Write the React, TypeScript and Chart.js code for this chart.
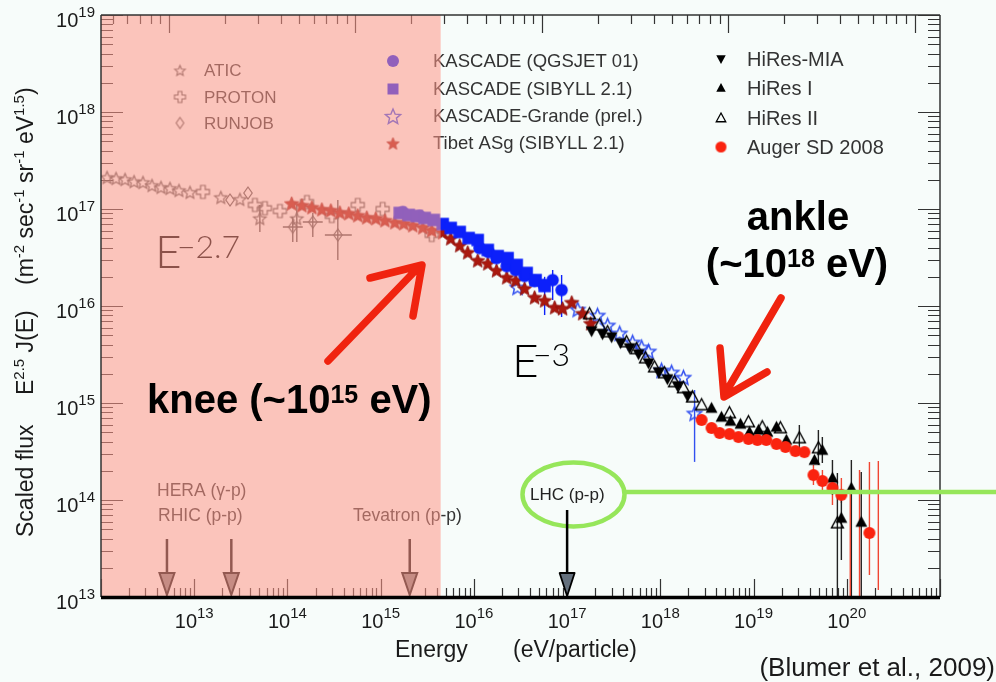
import React, { useEffect, useRef } from 'react';
import { Chart, registerables } from 'chart.js';

Chart.register(...registerables);

// ---------------- DATA ----------------
const xTickExponents = [13, 14, 15, 16, 17, 18, 19, 20];
const yTickExponents = [13, 14, 15, 16, 17, 18, 19];
const minorMultipliers = [2, 3, 4, 5, 6, 7, 8, 9];
const energyMin = 1e12;
const energyMax = 1e21;
const fluxMin = 1e13;
const fluxMax = 1e19;
const protonMassEv = 0.938e9;
const shadedMaxEnergy = 4.4e15;

const aticEnergy = [1.16e12, 1.45e12, 1.81e12, 2.26e12, 2.82e12, 3.52e12, 4.4e12, 5.49e12, 6.86e12, 9.0e12, 1.93e13, 3.09e13, 5.06e13, 1.26e14];
const aticFlux = [2.14e17, 2.09e17, 2.04e17, 1.94e17, 1.9e17, 1.77e17, 1.69e17, 1.65e17, 1.57e17, 1.5e17, 1.33e17, 1.27e17, 8.07e16, 8.07e16];
const aticLow = [null, null, null, null, null, null, null, null, null, null, null, null, 5.8e16, 4.57e16];
const aticHigh = [null, null, null, null, null, null, null, null, null, null, null, null, 1.1e17, 1.1e17];

const protonEnergy = [1.24e13, 4.48e13, 5.73e13, 8.3e13, 1.62e14, 2.99e14, 5.68e14, 1.05e15, 3.53e15];
const protonFlux = [1.5e17, 1.1e17, 1.02e17, 9.53e16, 1.18e17, 8.47e16, 1.1e17, 1.0e17, 5.4e16];

const runjobEnergy = [2.42e13, 3.77e13, 1.14e14, 1.87e14, 3.47e14];
const runjobFlux = [1.24e17, 1.46e17, 6.52e16, 7.34e16, 5.4e16];
const runjobLow = [null, null, 4.57e16, 5.14e16, 2.98e16];
const runjobHigh = [null, null, 8.27e16, 9.1e16, 1.24e17];
const runjobEnergyLow = [null, null, 8.93e13, 1.46e14, 2.52e14];
const runjobEnergyHigh = [null, null, 1.46e14, 2.39e14, 4.9e14];

const tibetEnergy = [1.11e14, 1.43e14, 1.83e14, 2.34e14, 2.92e14, 3.65e14, 4.55e14, 5.68e14, 7.1e14, 8.86e14, 1.11e15, 1.42e15, 1.77e15, 2.21e15, 2.83e15, 3.53e15, 4.63e15, 5.64e15, 7.05e15, 8.59e15, 1.1e16, 1.41e16, 1.75e16, 2.25e16, 2.81e16, 3.5e16, 4.48e16, 5.74e16, 7.35e16, 8.95e16, 1.12e17, 1.47e17, 1.79e17];
const tibetFlux = [1.15e17, 1.1e17, 1.05e17, 1.0e17, 9.77e16, 9.31e16, 9.1e16, 8.68e16, 8.27e16, 8.08e16, 7.71e16, 7.35e16, 7.18e16, 6.85e16, 6.52e16, 6.08e16, 5.8e16, 5.02e16, 4.26e16, 3.6e16, 2.98e16, 2.77e16, 2.35e16, 1.99e16, 1.85e16, 1.53e16, 1.24e16, 1.15e16, 9.77e15, 9.53e15, 1.1e16, 8.47e15, 6.68e15];

const kascadeSibyllEnergy = [1.6e15, 2.0e15, 2.44e15, 2.97e15, 3.71e15, 4.63e15, 5.64e15, 7.05e15, 8.79e15, 1.1e16, 1.41e16, 1.8e16, 2.3e16, 2.88e16, 3.68e16, 4.59e16, 5.74e16];
const kascadeSibyllFlux = [9.1e16, 8.68e16, 8.47e16, 8.08e16, 7.71e16, 7.0e16, 6.37e16, 5.8e16, 5.02e16, 4.79e16, 3.78e16, 3.27e16, 3.12e16, 2.65e16, 2.19e16, 1.85e16, 1.61e16];
const kascadeSibyllLow = [null, null, null, null, null, null, null, null, null, null, null, null, null, null, null, null, 8.07e15];
const kascadeSibyllHigh = [null, null, null, null, null, null, null, null, null, null, null, null, null, null, null, null, 2.0e16];

const kascadeQgsEnergy = [1.73e15, 2.62e15, 1.15e16, 1.44e16, 1.75e16, 2.25e16, 2.81e16, 3.5e16, 4.48e16, 5.6e16, 7.0e16, 8.73e16];
const kascadeQgsFlux = [9.31e16, 8.47e16, 3.96e16, 3.6e16, 3.12e16, 2.58e16, 2.35e16, 2.04e16, 1.81e16, 1.65e16, 1.85e16, 1.46e16];
const kascadeQgsLow = [null, null, null, null, null, null, null, null, null, null, 1.15e16, 7.71e15];
const kascadeQgsHigh = [null, null, null, null, null, null, null, null, null, null, 2.35e16, 2.09e16];

const grandeEnergy = [2.94e16, 1.3e17, 2.12e17, 2.72e17, 3.66e17, 5.04e17, 6.3e17, 7.47e17, 1.03e18, 1.32e18, 1.77e18, 2.33e18];
const grandeFlux = [1.57e16, 9.31e15, 8.07e15, 6.37e15, 5.27e15, 4.26e15, 3.78e15, 3.44e15, 2.19e15, 2.09e15, 1.85e15, 7.89e14];
const grandeLow = [null, null, null, null, null, null, null, null, null, null, null, 2.47e14];
const grandeHigh = [null, null, null, null, null, null, null, null, null, null, null, 1.36e15];

const hiresMiaEnergy = [1.83e17, 2.4e17, 3.0e17, 3.74e17, 4.68e17, 5.84e17, 7.47e17, 9.57e17, 1.19e18, 1.53e18, 1.96e18];
const hiresMiaFlux = [5.52e15, 5.14e15, 4.79e15, 4.16e15, 3.69e15, 3.2e15, 2.58e15, 2.09e15, 1.77e15, 1.5e15, 1.18e15];

const hires1Energy = [3.54e18, 4.53e18, 5.66e18, 7.24e18, 9.04e18, 1.13e19, 1.41e19, 1.76e19, 2.25e19, 4.5e19, 5.47e19, 7.02e19, 8.75e19, 1.12e20, 1.43e20];
const hires1Flux = [8.87e14, 7.18e14, 6.52e14, 6.08e14, 5.02e14, 5.27e14, 5.02e14, 5.66e14, 4.16e14, 2.58e14, 3.27e14, 1.69e14, 6.52e13, 1.33e14, 5.93e13];
const hires1Low = [null, null, null, null, null, null, null, null, null, null, 2.4e14, 1.13e14, 2.4e13, 1.0e13, 1.0e13];
const hires1High = [null, null, null, null, null, null, null, null, null, null, 4.46e14, 2.58e14, 1.2e14, 2.58e14, 1.94e14];

const hires2Energy = [1.74e17, 2.23e17, 2.72e17, 4.34e17, 5.56e17, 6.94e17, 8.67e17, 1.11e18, 1.42e18, 1.77e18, 2.21e18, 2.77e18, 5.52e18, 8.82e18, 1.24e19, 1.94e19, 3.1e19, 4.96e19, 7.93e19];
const hires2Flux = [8.28e15, 6.37e15, 5.4e15, 4.26e15, 3.61e15, 2.91e15, 2.35e15, 2.04e15, 1.65e15, 1.43e15, 1.15e15, 9.54e14, 7.89e14, 6.37e14, 5.66e14, 5.53e14, 4.36e14, 3.44e14, 5.79e13];
const hires2Low = [null, null, null, null, null, null, null, null, null, null, null, null, null, null, null, null, 3.27e14, 2.3e14, 1.0e13];
const hires2High = [null, null, null, null, null, null, null, null, null, null, null, null, null, null, null, null, 5.93e14, 5.27e14, 1.9e14];

const augerEnergy = [2.77e18, 3.54e18, 4.32e18, 5.52e18, 6.89e18, 8.82e18, 1.1e19, 1.37e19, 1.76e19, 2.2e19, 2.81e19, 3.51e19, 4.39e19, 5.48e19, 7.02e19, 8.75e19, 1.75e20];
const augerFlux = [6.68e14, 5.53e14, 4.91e14, 4.79e14, 4.46e14, 4.26e14, 4.16e14, 4.16e14, 3.78e14, 3.52e14, 3.2e14, 3.12e14, 1.81e14, 1.57e14, 1.33e14, 1.13e14, 4.57e13];
const augerLow = [null, null, null, null, null, null, null, null, null, null, null, null, 1.43e14, 1.21e14, 8.9e13, 9.3e13, 1.69e13];
const augerHigh = [null, null, null, null, null, null, null, null, null, null, null, null, 2.3e14, 2.04e14, 1.69e14, 1.69e14, 2.47e14];
const augerLimitEnergy = [1.09e20, 1.37e20, 2.18e20];
const augerLimitLow = [1.0e13, 1.0e13, 1.18e13];
const augerLimitHigh = [1.27e14, 2.04e14, 2.52e14];

const colliderLabels = ['HERA (γ-p)', 'RHIC (p-p)', 'Tevatron (p-p)', 'LHC (p-p)'];
const colliderEnergy = [5.1e12, 2.5e13, 2.05e15, 1.0e17];

const legendLeft = ['ATIC', 'PROTON', 'RUNJOB'];
const legendMiddle = ['KASCADE (QGSJET 01)', 'KASCADE (SIBYLL 2.1)', 'KASCADE-Grande (prel.)', 'Tibet ASg (SIBYLL 2.1)'];
const legendRight = ['HiRes-MIA', 'HiRes I', 'HiRes II', 'Auger SD 2008'];

// ---------------- STYLE ----------------
const BG = 'rgb(247,252,250)';
const SANS = '"Liberation Sans", Arimo, Arial, Helvetica, sans-serif';
const LIGHT = 'Lato, "Open Sans", "DejaVu Sans", sans-serif';
const GREY = 'rgb(80,80,80)';
const BLUE = 'rgb(12,32,250)';
const GRANDE = 'rgb(50,80,240)';
const TIBET = 'rgb(170,25,15)';
const AUGER = 'rgb(250,35,15)';
const ARROW_RED = 'rgb(240,35,15)';
const GREEN = 'rgb(150,230,90)';

function makeMarker(shape: string, size: number, stroke: string | null, fill: string | null, lw = 1.2): HTMLCanvasElement {
  const pad = 2;
  const n = Math.ceil(size + pad * 2);
  const c = document.createElement('canvas');
  c.width = n;
  c.height = n;
  const ctx = c.getContext('2d')!;
  const cx = n / 2;
  const cy = n / 2;
  const r = size / 2;
  ctx.beginPath();
  if (shape === 'star') {
    for (let i = 0; i < 10; i++) {
      const a = -Math.PI / 2 + (i * Math.PI) / 5;
      const rr = i % 2 === 0 ? r : r * 0.45;
      ctx.lineTo(cx + rr * Math.cos(a), cy + 1 + rr * Math.sin(a));
    }
    ctx.closePath();
  } else if (shape === 'circle') {
    ctx.arc(cx, cy, r, 0, Math.PI * 2);
  } else if (shape === 'square') {
    ctx.rect(cx - r, cy - r, 2 * r, 2 * r);
  } else if (shape === 'diamond') {
    ctx.moveTo(cx, cy - r);
    ctx.lineTo(cx + r * 0.7, cy);
    ctx.lineTo(cx, cy + r);
    ctx.lineTo(cx - r * 0.7, cy);
    ctx.closePath();
  } else if (shape === 'cross') {
    const a = r * 0.36;
    const p = [[-a, -r], [a, -r], [a, -a], [r, -a], [r, a], [a, a], [a, r], [-a, r], [-a, a], [-r, a], [-r, -a], [-a, -a]];
    p.forEach(([x, y]) => ctx.lineTo(cx + x, cy + y));
    ctx.closePath();
  } else if (shape === 'triUp') {
    ctx.moveTo(cx, cy - r);
    ctx.lineTo(cx + r * 0.95, cy + r * 0.75);
    ctx.lineTo(cx - r * 0.95, cy + r * 0.75);
    ctx.closePath();
  } else if (shape === 'triDown') {
    ctx.moveTo(cx, cy + r);
    ctx.lineTo(cx + r * 0.95, cy - r * 0.75);
    ctx.lineTo(cx - r * 0.95, cy - r * 0.75);
    ctx.closePath();
  }
  if (fill) {
    ctx.fillStyle = fill;
    ctx.fill();
  }
  if (stroke) {
    ctx.lineWidth = lw;
    ctx.strokeStyle = stroke;
    ctx.stroke();
  }
  return c;
}

function points(E: number[], F: number[], lo?: (number | null)[], hi?: (number | null)[], elo?: (number | null)[], ehi?: (number | null)[]) {
  return E.map((x, i) => ({
    x,
    y: F[i],
    lo: lo ? lo[i] : null,
    hi: hi ? hi[i] : null,
    xlo: elo ? elo[i] : null,
    xhi: ehi ? ehi[i] : null,
  }));
}

type Part = [string, boolean];

function drawRich(ctx: CanvasRenderingContext2D, parts: Part[], x: number, y: number, size: number, supSize: number, rise: number, weight = '', family = SANS, align: 'left' | 'center' | 'right' = 'left') {
  let w = 0;
  for (const [t, sup] of parts) {
    ctx.font = `${weight} ${sup ? supSize : size}px ${family}`;
    w += ctx.measureText(t).width;
  }
  let cx = align === 'left' ? x : align === 'center' ? x - w / 2 : x - w;
  ctx.textAlign = 'left';
  for (const [t, sup] of parts) {
    ctx.font = `${weight} ${sup ? supSize : size}px ${family}`;
    ctx.fillText(t, cx, sup ? y - rise : y);
    cx += ctx.measureText(t).width;
  }
  return w;
}

function sqrtS(E: number) {
  return Math.sqrt(2 * protonMassEv * E);
}

export default function App() {
  const ref = useRef<HTMLCanvasElement>(null);

  useEffect(() => {
    const canvas = ref.current!;
    const markers: Record<string, HTMLCanvasElement> = {
      atic: makeMarker('star', 13, GREY, null, 1.2),
      proton: makeMarker('cross', 13, GREY, null, 1.2),
      runjob: makeMarker('diamond', 12, GREY, null, 1.2),
      kq: makeMarker('circle', 12.5, null, BLUE),
      ks: makeMarker('square', 12.5, null, BLUE),
      grande: makeMarker('star', 15, GRANDE, null, 1.5),
      tibet: makeMarker('star', 15, 'rgb(140,15,10)', TIBET, 0.8),
      mia: makeMarker('triDown', 12.5, null, '#000'),
      h1: makeMarker('triUp', 12.5, null, '#000'),
      h2: makeMarker('triUp', 12.5, '#000', null, 1.4),
      auger: makeMarker('circle', 12, null, AUGER),
    };
    const legendMarkers: Record<string, HTMLCanvasElement> = {
      ATIC: makeMarker('star', 11, GREY, null, 1.1),
      PROTON: makeMarker('cross', 11, GREY, null, 1.1),
      RUNJOB: makeMarker('diamond', 11, GREY, null, 1.1),
      'KASCADE (QGSJET 01)': makeMarker('circle', 12, null, BLUE),
      'KASCADE (SIBYLL 2.1)': makeMarker('square', 11, null, BLUE),
      'KASCADE-Grande (prel.)': makeMarker('star', 16, GRANDE, null, 1.4),
      'Tibet ASg (SIBYLL 2.1)': makeMarker('star', 13, 'rgb(140,15,10)', TIBET, 0.8),
      'HiRes-MIA': makeMarker('triDown', 10, null, '#000'),
      'HiRes I': makeMarker('triUp', 10, null, '#000'),
      'HiRes II': makeMarker('triUp', 10, '#000', null, 1.3),
      'Auger SD 2008': makeMarker('circle', 11, null, AUGER),
    };

    const mk = (label: string, data: any[], style: HTMLCanvasElement, errColor: string) => ({
      label,
      data,
      pointStyle: style,
      pointRadius: 5,
      pointHoverRadius: 5,
      showLine: false,
      errColor,
    });

    const datasets: any[] = [
      mk('KASCADE (SIBYLL 2.1)', points(kascadeSibyllEnergy, kascadeSibyllFlux, kascadeSibyllLow, kascadeSibyllHigh), markers.ks, BLUE),
      mk('KASCADE (QGSJET 01)', points(kascadeQgsEnergy, kascadeQgsFlux, kascadeQgsLow, kascadeQgsHigh), markers.kq, BLUE),
      mk('Auger SD 2008', points(augerEnergy, augerFlux, augerLow, augerHigh), markers.auger, 'rgb(240,70,50)'),
      mk('HiRes I', points(hires1Energy, hires1Flux, hires1Low, hires1High), markers.h1, '#222'),
      mk('HiRes-MIA', points(hiresMiaEnergy, hiresMiaFlux), markers.mia, '#222'),
      mk('HiRes II', points(hires2Energy, hires2Flux, hires2Low, hires2High), markers.h2, '#222'),
      mk('Tibet ASg (SIBYLL 2.1)', points(tibetEnergy, tibetFlux), markers.tibet, TIBET),
      mk('KASCADE-Grande (prel.)', points(grandeEnergy, grandeFlux, grandeLow, grandeHigh), markers.grande, GRANDE),
      mk('RUNJOB', points(runjobEnergy, runjobFlux, runjobLow, runjobHigh, runjobEnergyLow, runjobEnergyHigh), markers.runjob, GREY),
      mk('PROTON', points(protonEnergy, protonFlux), markers.proton, GREY),
      mk('ATIC', points(aticEnergy, aticFlux, aticLow, aticHigh), markers.atic, GREY),
    ];

    const line = (ctx: CanvasRenderingContext2D, x1: number, y1: number, x2: number, y2: number) => {
      ctx.moveTo(x1, y1);
      ctx.lineTo(x2, y2);
    };

    const plugin = {
      id: 'cosmicRayDecor',
      beforeDraw(chart: any) {
        const ctx = chart.ctx;
        ctx.save();
        ctx.fillStyle = BG;
        ctx.fillRect(0, 0, chart.width, chart.height);
        ctx.restore();
      },
      beforeDatasetsDraw(chart: any) {
        const { ctx, chartArea: a, scales } = chart;
        const xs = scales.x;
        const ys = scales.y;
        const xt = scales.x2;
        ctx.save();
        // ticks
        ctx.strokeStyle = '#333';
        ctx.lineWidth = 1.2;
        ctx.beginPath();
        for (let e = 12; e <= 19; e++) {
          for (const k of [1, ...minorMultipliers]) {
            const v = k * Math.pow(10, e);
            if (v < fluxMin || v > fluxMax) continue;
            const py = Math.round(ys.getPixelForValue(v)) + 0.5;
            const L = k === 1 ? 22 : 12;
            line(ctx, a.left, py, a.left + L, py);
            line(ctx, a.right, py, a.right - L, py);
          }
        }
        for (let e = 11; e <= 21; e++) {
          for (const k of [1, ...minorMultipliers]) {
            const v = k * Math.pow(10, e);
            if (v < energyMin || v > energyMax) continue;
            const px = Math.round(xs.getPixelForValue(v)) + 0.5;
            const L = k === 1 ? 18 : 9;
            line(ctx, px, a.bottom, px, a.bottom - L);
          }
        }
        for (let e = 9; e <= 16; e++) {
          for (const k of [1, ...minorMultipliers]) {
            const v = k * Math.pow(10, e);
            if (v < xt.min || v > xt.max) continue;
            const px = Math.round(xt.getPixelForValue(v)) + 0.5;
            const L = k === 1 ? 18 : 9;
            line(ctx, px, a.top, px, a.top + L);
          }
        }
        ctx.stroke();

        // E^-2.7 (under the shading)
        ctx.fillStyle = '#000';
        ctx.font = `300 46px ${LIGHT}`;
        ctx.fillText('E', 155, 268);
        ctx.font = `300 32px ${LIGHT}`;
        ctx.fillText('−2.7', 177, 258);

        // collider labels + arrows (first three, under the shading)
        ctx.fillStyle = '#333';
        ctx.font = `17.5px ${SANS}`;
        ctx.fillText(colliderLabels[0], 157, 496);
        ctx.fillText(colliderLabels[1], 158, 521);
        ctx.fillText(colliderLabels[2], 353, 521);
        for (let i = 0; i < 3; i++) {
          const px = xs.getPixelForValue(colliderEnergy[i]);
          ctx.strokeStyle = '#111';
          ctx.lineWidth = 2.5;
          ctx.beginPath();
          line(ctx, px, 539, px, 573);
          ctx.stroke();
          ctx.beginPath();
          ctx.moveTo(px - 7.5, 573);
          ctx.lineTo(px + 7.5, 573);
          ctx.lineTo(px, 595);
          ctx.closePath();
          ctx.fillStyle = 'rgb(130,130,130)';
          ctx.fill();
          ctx.lineWidth = 2;
          ctx.stroke();
        }

        // error bars
        ctx.save();
        ctx.beginPath();
        ctx.rect(a.left, a.top, a.right - a.left, a.bottom - a.top);
        ctx.clip();
        chart.data.datasets.forEach((ds: any, di: number) => {
          const meta = chart.getDatasetMeta(di);
          ctx.strokeStyle = ds.errColor;
          ctx.lineWidth = 1.4;
          ctx.beginPath();
          ds.data.forEach((p: any, i: number) => {
            const el = meta.data[i];
            if (!el) return;
            if (p.lo != null && p.hi != null) line(ctx, el.x, ys.getPixelForValue(p.lo), el.x, ys.getPixelForValue(p.hi));
            if (p.xlo != null && p.xhi != null) line(ctx, xs.getPixelForValue(p.xlo), el.y, xs.getPixelForValue(p.xhi), el.y);
          });
          ctx.stroke();
        });
        ctx.strokeStyle = 'rgb(240,70,50)';
        ctx.beginPath();
        augerLimitEnergy.forEach((E, i) => {
          const px = xs.getPixelForValue(E);
          line(ctx, px, ys.getPixelForValue(augerLimitLow[i]), px, ys.getPixelForValue(augerLimitHigh[i]));
        });
        ctx.stroke();
        ctx.restore();
        ctx.restore();
      },
      afterDatasetsDraw(chart: any) {
        const { ctx, chartArea: a, scales } = chart;
        const xs = scales.x;
        const ys = scales.y;
        ctx.save();

        // legends
        const drawLegend = (labels: string[], mx: number, tx: number, rows: number[], size: number) => {
          labels.forEach((lab, i) => {
            const m = legendMarkers[lab];
            ctx.drawImage(m, mx - m.width / 2, rows[i] - m.height / 2);
            ctx.fillStyle = '#333';
            ctx.font = `${size}px ${SANS}`;
            ctx.textBaseline = 'middle';
            ctx.fillText(lab, tx, rows[i] + 1);
          });
          ctx.textBaseline = 'alphabetic';
        };
        drawLegend(legendLeft, 180, 204, [70, 97, 123], 17);
        drawLegend(legendMiddle, 393, 433, [61, 89, 116, 143], 18.5);
        drawLegend(legendRight, 721, 747, [59, 88, 118, 147], 20);

        // shaded region
        const sx = xs.getPixelForValue(shadedMaxEnergy);
        ctx.fillStyle = 'rgba(255,150,135,0.55)';
        ctx.fillRect(a.left, a.top, sx - a.left, a.bottom - a.top - 1);

        // frame
        ctx.strokeStyle = '#333';
        ctx.lineWidth = 1.5;
        ctx.beginPath();
        line(ctx, a.left, a.bottom, a.left, a.top);
        line(ctx, a.left, a.top, a.right, a.top);
        line(ctx, a.right, a.top, a.right, a.bottom);
        ctx.stroke();
        ctx.strokeStyle = '#000';
        ctx.lineWidth = 3.5;
        ctx.beginPath();
        line(ctx, a.left, a.bottom + 0.5, a.right, a.bottom + 0.5);
        ctx.stroke();

        // tick labels
        ctx.fillStyle = '#1a1a1a';
        xTickExponents.forEach((e) => {
          const px = xs.getPixelForValue(Math.pow(10, e));
          drawRich(ctx, [['10', false], [String(e), true]], px, 628, 20, 15, 10, '', SANS, 'center');
        });
        yTickExponents.forEach((e) => {
          const py = ys.getPixelForValue(Math.pow(10, e));
          drawRich(ctx, [['10', false], [String(e), true]], 95, py + 12, 20, 15, 10, '', SANS, 'right');
        });

        // axis titles
        ctx.fillStyle = '#1a1a1a';
        ctx.font = `23px ${SANS}`;
        ctx.fillText('Energy', 395, 657);
        ctx.fillText('(eV/particle)', 513, 657);
        ctx.save();
        ctx.translate(33, 537);
        ctx.rotate(-Math.PI / 2);
        drawRich(ctx, [['Scaled flux', false]], 0, 0, 23, 15, 9);
        drawRich(ctx, [['E', false], ['2.5', true], [' J(E)', false]], 142, 0, 23, 15, 9);
        drawRich(ctx, [['(m', false], ['-2', true], [' sec', false], ['-1', true], [' sr', false], ['-1', true], [' eV', false], ['1.5', true], [')', false]], 252, 0, 23, 15, 9);
        ctx.restore();
        ctx.font = `26px ${SANS}`;
        ctx.textAlign = 'right';
        ctx.fillText('(Blumer et al., 2009)', 995, 676);
        ctx.textAlign = 'left';

        // E^-3
        ctx.fillStyle = '#000';
        ctx.font = `300 46px ${LIGHT}`;
        ctx.fillText('E', 512, 377);
        ctx.font = `300 32px ${LIGHT}`;
        ctx.fillText('−3', 533, 366);

        // knee / ankle annotations
        ctx.fillStyle = '#000';
        drawRich(ctx, [['knee (~10', false], ['15', true], [' eV)', false]], 147, 413, 40, 25, 10, 'bold');
        drawRich(ctx, [['ankle', false]], 798, 230, 40, 25, 10, 'bold', SANS, 'center');
        drawRich(ctx, [['(~10', false], ['18', true], [' eV)', false]], 797, 277, 40, 25, 10, 'bold', SANS, 'center');

        ctx.strokeStyle = ARROW_RED;
        ctx.lineWidth = 7.5;
        ctx.lineCap = 'round';
        ctx.lineJoin = 'round';
        ctx.beginPath();
        line(ctx, 328, 361, 414, 272);
        ctx.moveTo(370, 278);
        ctx.lineTo(422, 265);
        ctx.lineTo(413, 316);
        ctx.stroke();
        ctx.beginPath();
        line(ctx, 781, 298, 726, 392);
        ctx.moveTo(720, 348);
        ctx.lineTo(724, 397);
        ctx.lineTo(767, 372);
        ctx.stroke();

        // LHC annotation
        ctx.strokeStyle = GREEN;
        ctx.lineWidth = 4.5;
        ctx.lineCap = 'butt';
        ctx.beginPath();
        ctx.ellipse(573.5, 494.5, 51, 32, 0, 0, Math.PI * 2);
        ctx.stroke();
        ctx.beginPath();
        line(ctx, 625, 492, 996, 492);
        ctx.stroke();
        ctx.fillStyle = '#222';
        ctx.font = `17px ${SANS}`;
        ctx.fillText(colliderLabels[3], 530, 500);
        const lx = xs.getPixelForValue(colliderEnergy[3]);
        ctx.strokeStyle = '#000';
        ctx.lineWidth = 2.5;
        ctx.beginPath();
        line(ctx, lx, 510, lx, 573);
        ctx.stroke();
        ctx.beginPath();
        ctx.moveTo(lx - 7.5, 573);
        ctx.lineTo(lx + 7.5, 573);
        ctx.lineTo(lx, 596);
        ctx.closePath();
        ctx.fillStyle = 'rgb(100,112,125)';
        ctx.fill();
        ctx.lineWidth = 1.8;
        ctx.stroke();

        ctx.restore();
      },
    };

    const chart = new Chart(canvas, {
      type: 'scatter',
      data: { datasets },
      options: {
        animation: false,
        responsive: false,
        maintainAspectRatio: false,
        layout: { padding: { left: 101, right: 56, top: 15, bottom: 85 } },
        scales: {
          x: { type: 'logarithmic', min: energyMin, max: energyMax, display: false },
          y: { type: 'logarithmic', min: fluxMin, max: fluxMax, display: false },
          x2: { type: 'logarithmic', position: 'top', min: sqrtS(energyMin), max: sqrtS(energyMax), display: false },
        },
        plugins: { legend: { display: false }, tooltip: { enabled: false } },
        events: [],
      } as any,
      plugins: [plugin],
    });
    return () => chart.destroy();
  }, []);

  return (
    <div style={{ position: 'fixed', left: 0, top: 0, width: 996, height: 682, background: BG }}>
      <canvas ref={ref} width={996} height={682} style={{ display: 'block' }} />
    </div>
  );
}
